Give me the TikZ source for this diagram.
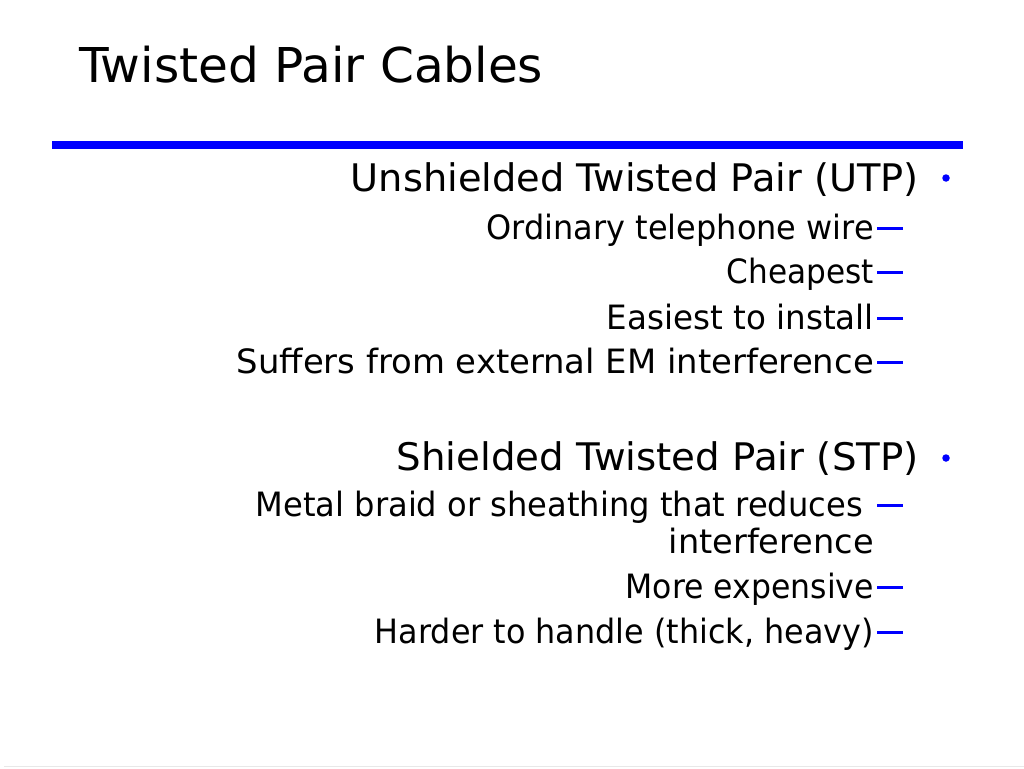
\documentclass[tikz,border=0pt]{standalone}
\usepackage{fontspec}
\usepackage{graphicx}
\setmainfont{DejaVu Sans}
\definecolor{rule}{RGB}{0,0,255}
\definecolor{faint}{RGB}{232,232,232}
\newcommand{\fitto}[2]{\resizebox{#1pt}{\height}{#2}}
\tikzset{
  titletext/.style={anchor=base west, inner sep=0pt, font=\fontsize{48}{50}\selectfont},
  maintext/.style={anchor=base east, inner sep=0pt, font=\fontsize{38}{40}\selectfont},
  subtext/.style={anchor=base east, inner sep=0pt, font=\fontsize{33.5}{36}\selectfont},
  bulletdot/.style={circle, fill=rule, inner sep=0pt, minimum size=7.5pt},
  dashmark/.style={draw=rule, line width=3pt},
}
\begin{document}
\begin{tikzpicture}[x=1pt,y=-1pt]
\useasboundingbox (0,0) rectangle (1024,768);
\fill[white] (0,0) rectangle (1024,768);
\draw[faint, line width=1pt] (4,766) -- (1024,766);
\node[titletext] (title) at (79,82) {\fitto{464}{Twisted Pair Cables}};
\coordinate (ruleL) at (52,145);
\coordinate (ruleR) at (963,145);
\draw[rule, line width=8pt] (ruleL) -- (ruleR);
% UTP
\node[maintext] (utp) at (919,191) {\fitto{568}{Unshielded Twisted Pair (UTP)}};
\node[bulletdot] (b1) at (946,178) {};
\node[subtext] (u1) at (874,239) {\fitto{387}{Ordinary telephone wire}};
\node[subtext] (u2) at (874,283) {\fitto{147}{Cheapest}};
\node[subtext] (u3) at (874,329) {\fitto{267}{Easiest to install}};
\node[subtext] (u4) at (874,373) {\fitto{637}{Suffers from external EM interference}};
\foreach \y/\n in {228/d1,272/d2,318/d3,362/d4}{
  \coordinate (\n a) at (877,\y); \coordinate (\n b) at (903,\y);
  \draw[dashmark] (\n a) -- (\n b);
}
% STP
\node[maintext] (stp) at (919,470) {\fitto{522}{Shielded Twisted Pair (STP)}};
\node[bulletdot] (b2) at (946,458) {};
\node[subtext] (s1) at (863,516) {\fitto{607}{Metal braid or sheathing that reduces}};
\node[subtext] (s1b) at (874,553) {\fitto{205}{interference}};
\node[subtext] (s2) at (874,598) {\fitto{248}{More expensive}};
\node[subtext] (s3) at (874,643) {\fitto{499}{Harder to handle (thick, heavy)}};
\foreach \y/\n in {505/e1,587/e2,632/e3}{
  \coordinate (\n a) at (877,\y); \coordinate (\n b) at (903,\y);
  \draw[dashmark] (\n a) -- (\n b);
}
\end{tikzpicture}
\end{document}
